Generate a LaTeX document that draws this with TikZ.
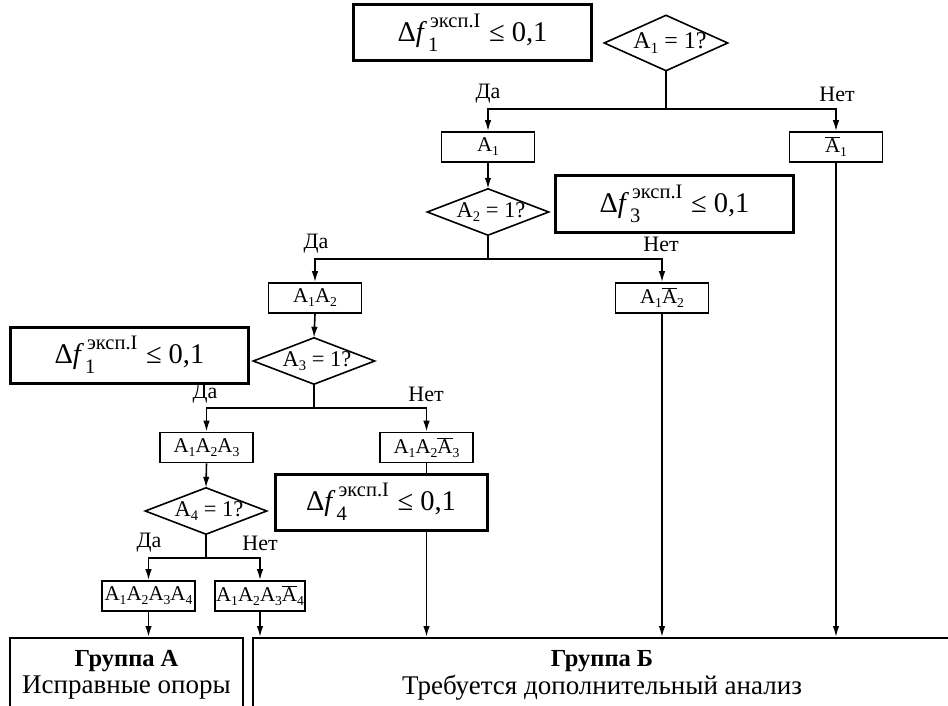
\documentclass[tikz,border=0pt]{standalone}
\usepackage{fontspec}
\usepackage{graphicx}
\setmainfont{Liberation Serif}
\usetikzlibrary{arrows.meta}
\newcommand{\Sb}[1]{\raisebox{-0.42ex}{\scalebox{0.65}{#1}}}
\newcommand{\OA}{$\overline{\mbox{A}}$}
\newcommand{\Dexp}[1]{Δ\textit{f}\kern1pt\rlap{\raisebox{-0.75ex}{\scalebox{0.72}{#1}}}\kern2pt\raisebox{1.05ex}{\scalebox{0.72}{эксп.I}}\hspace{0.3em}≤ 0,1}
\tikzset{
  ln/.style={line width=1.6pt},
  arr/.style={line width=1.6pt,-{Latex[length=11pt,width=6.5pt]}},
  sbox/.style={draw,line width=1.6pt,minimum width=93pt,minimum height=30pt,inner sep=0pt,font=\fontsize{21}{21}\selectfont},
  tbox/.style={draw,line width=3pt,minimum width=238pt,minimum height=56pt,inner sep=0pt,font=\fontsize{28.5}{28.5}\selectfont},
  dia/.style={minimum width=121pt,minimum height=46pt,inner sep=0pt,font=\fontsize{22.5}{22.5}\selectfont},
  lbl/.style={inner sep=0pt,font=\fontsize{22}{22}\selectfont},
  gbox/.style={draw,line width=2pt,inner sep=0pt},
  gtitle/.style={inner sep=0pt,font=\fontsize{24.5}{24.5}\selectfont\bfseries},
  gtext/.style={inner sep=0pt,font=\fontsize{27}{27}\selectfont}
}
\begin{document}
\begin{tikzpicture}[x=1pt,y=-1pt]
\useasboundingbox (0,0) rectangle (948,706);
% level 1
\node[tbox] (f1) at (472.5,33) {\Dexp{1}};
\node[dia,minimum height=55pt,minimum width=123pt,font=\fontsize{24}{24}\selectfont] (d1) at (666,43) {\hspace{8pt}A\Sb{1} = 1?};
\draw[ln] (d1.west)--(d1.north)--(d1.east)--(d1.south)--cycle;
\coordinate (j1) at (666,109);
\node[sbox] (b1) at (488,147) {A\Sb{1}};
\node[sbox] (n1) at (836,147) {\OA\Sb{1}};
\draw[ln] (d1.south) -- (j1);
\draw[arr] (j1) -| (b1.north);
\draw[arr] (j1) -| (n1.north);
\node[lbl] (y1) at (488,94) {Да};
\node[lbl] (x1) at (837,94) {Нет};
% level 2
\node[dia] (d2) at (488,212) {\hspace{6pt}A\Sb{2} = 1?};
\draw[ln] (d2.west)--(d2.north)--(d2.east)--(d2.south)--cycle;
\draw[arr] (b1.south) -- (d2.north);
\node[tbox] (f3) at (674.5,204) {\Dexp{3}};
\coordinate (j2) at (488,259);
\node[sbox] (b2) at (315,298) {A\Sb{1}A\Sb{2}};
\node[sbox] (n2) at (662,298) {A\Sb{1}\OA\Sb{2}};
\draw[ln] (d2.south) -- (j2);
\draw[arr] (j2) -| (b2.north);
\draw[arr] (j2) -| (n2.north);
\node[lbl] (y2) at (316,244) {Да};
\node[lbl] (x2) at (661,244) {Нет};
% level 3
\node[dia] (d3) at (314,361) {\hspace{6pt}A\Sb{3} = 1?};
\draw[ln] (d3.west)--(d3.north)--(d3.east)--(d3.south)--cycle;
\draw[arr] (b2.south) -- (d3.north);
\node[tbox] (f1b) at (129.5,355) {\Dexp{1}};
\coordinate (j3) at (314,408);
\node[sbox] (b3) at (206.5,447.5) {A\Sb{1}A\Sb{2}A\Sb{3}};
\node[sbox] (n3) at (426.5,447.5) {A\Sb{1}A\Sb{2}\OA\Sb{3}};
\draw[ln] (d3.south) -- (j3);
\draw[arr] (j3) -| (b3.north);
\draw[arr] (j3) -| (n3.north);
\node[lbl] (y3) at (205,394) {Да};
\node[lbl] (x3) at (426,394) {Нет};
\node[tbox,minimum width=212pt] (f4) at (381,502) {\Dexp{4}};
\draw[ln] (n3.south) -- (n3.south |- f4.north);
% level 4
\node[dia] (d4) at (206,511) {\hspace{6pt}A\Sb{4} = 1?};
\draw[ln] (d4.west)--(d4.north)--(d4.east)--(d4.south)--cycle;
\draw[arr] (b3.south) -- (d4.north);
\coordinate (j4) at (206,558);
\node[sbox] (b4) at (148.5,596) {A\Sb{1}A\Sb{2}A\Sb{3}A\Sb{4}};
\node[sbox,minimum width=90pt] (n4) at (260,596) {A\Sb{1}A\Sb{2}A\Sb{3}\OA\Sb{4}};
\draw[ln] (d4.south) -- (j4);
\draw[arr] (j4) -| (b4.north);
\draw[arr] (j4) -| (n4.north);
\node[lbl] (y4) at (149,543) {Да};
\node[lbl] (x4) at (260,543) {Нет};
% groups
\node[gbox,minimum width=233pt,minimum height=100pt,anchor=north] (gA) at (126.5,637) {};
\node[gbox,minimum width=720pt,minimum height=100pt,anchor=north west] (gB) at (252,637) {};
\node[gtitle] (gA1) at (126.5,661) {Группа А};
\node[gtext] (gA2) at (126.5,688) {Исправные опоры};
\node[gtitle] (gB1) at (602,661) {Группа Б};
\node[gtext] (gB2) at (602,688) {Требуется дополнительный анализ};
\draw[arr] (b4.south) -- (b4.south |- gA.north);
\draw[arr] (n4.south) -- (n4.south |- gB.north);
\draw[arr] (n3.south |- f4.south) -- (n3.south |- gB.north);
\draw[arr] (n2.south) -- (n2.south |- gB.north);
\draw[arr] (n1.south) -- (n1.south |- gB.north);
\end{tikzpicture}
\end{document}
